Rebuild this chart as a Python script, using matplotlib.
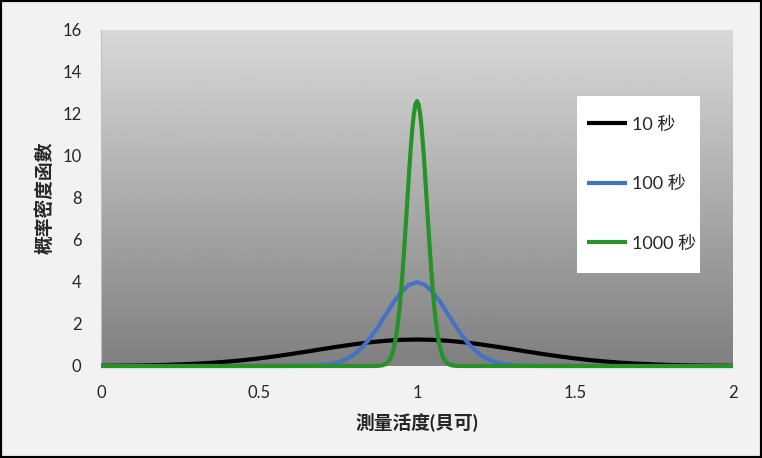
import numpy as np
import matplotlib.pyplot as plt
from matplotlib.patches import Rectangle

plt.rcParams['font.family'] = ['Lato', 'Noto Sans CJK TC', 'DejaVu Sans']

# data (mean activity 1 Bq)
x_10s = [0.0, 0.05, 0.1, 0.15, 0.2, 0.25, 0.3, 0.35, 0.4, 0.45, 0.5, 0.55, 0.6, 0.65,
         0.7, 0.75, 0.8, 0.85, 0.9, 0.95, 1.0, 1.05, 1.1, 1.15, 1.2, 1.25, 1.3, 1.35,
         1.4, 1.45, 1.5, 1.55, 1.6, 1.65, 1.7, 1.75, 1.8, 1.85, 1.9, 1.95, 2.0]
y_10s = [0.0085, 0.0138, 0.0220, 0.0340, 0.0514, 0.0758, 0.1088, 0.1525, 0.2085, 0.2781,
         0.3614, 0.4583, 0.5669, 0.6838, 0.8044, 0.9230, 1.0329, 1.1274, 1.2000, 1.2459,
         1.2616, 1.2459, 1.2000, 1.1274, 1.0329, 0.9230, 0.8044, 0.6838, 0.5669, 0.4583,
         0.3614, 0.2781, 0.2085, 0.1525, 0.1088, 0.0758, 0.0514, 0.0340, 0.0220, 0.0138,
         0.0085]

x_100s = [0.0, 0.55, 0.6, 0.65, 0.675, 0.7, 0.725, 0.75, 0.775, 0.8, 0.825, 0.85, 0.875,
          0.9, 0.925, 0.95, 0.975, 1.0, 1.025, 1.05, 1.075, 1.1, 1.125, 1.15, 1.175, 1.2,
          1.225, 1.25, 1.275, 1.3, 1.325, 1.35, 1.4, 1.45, 2.0]
y_100s = [0.0, 0.0001, 0.0013, 0.0087, 0.0203, 0.0443, 0.0909, 0.1753, 0.3174, 0.5399,
          0.8628, 1.2952, 1.8265, 2.4197, 3.0114, 3.5207, 3.8666, 3.9894, 3.8666, 3.5207,
          3.0114, 2.4197, 1.8265, 1.2952, 0.8628, 0.5399, 0.3174, 0.1753, 0.0909, 0.0443,
          0.0203, 0.0087, 0.0013, 0.0001, 0.0]

x_1000s = [0.0, 0.86, 0.87, 0.88, 0.89, 0.9, 0.905, 0.91, 0.915, 0.92, 0.925, 0.93, 0.935,
           0.94, 0.945, 0.95, 0.955, 0.96, 0.965, 0.97, 0.975, 0.98, 0.985, 0.99, 0.995,
           1.0, 1.005, 1.01, 1.015, 1.02, 1.025, 1.03, 1.035, 1.04, 1.045, 1.05, 1.055,
           1.06, 1.065, 1.07, 1.075, 1.08, 1.085, 1.09, 1.095, 1.1, 1.11, 1.12, 1.13,
           1.14, 2.0]
y_1000s = [0.0, 0.0003, 0.0027, 0.0094, 0.0298, 0.085, 0.138, 0.220, 0.340, 0.514, 0.758,
           1.088, 1.525, 2.085, 2.781, 3.614, 4.583, 5.669, 6.838, 8.044, 9.230, 10.329,
           11.274, 12.000, 12.459, 12.616, 12.459, 12.000, 11.274, 10.329, 9.230, 8.044,
           6.838, 5.669, 4.583, 3.614, 2.781, 2.085, 1.525, 1.088, 0.758, 0.514, 0.340,
           0.220, 0.138, 0.085, 0.0298, 0.0094, 0.0027, 0.0003, 0.0]

labels = ['10 秒', '100 秒', '1000 秒']
colors = ['#000000', '#4472c4', '#279227']

W, H = 762, 458
fig = plt.figure(figsize=(W / 100, H / 100), dpi=100, facecolor='#f2f2f2')
ax = fig.add_axes([101 / W, 1 - 366 / H, 632 / W, 336 / H])

# grey gradient background of the plot area
grad = np.linspace(0.85, 0.5, 256).reshape(-1, 1)
ax.imshow(grad, cmap='gray', vmin=0, vmax=1, aspect='auto',
          extent=[0, 1, 0, 1], transform=ax.transAxes, zorder=0)

for xs, ys, lab, col in zip([x_10s, x_100s, x_1000s], [y_10s, y_100s, y_1000s],
                            labels, colors):
    ax.plot(xs, ys, color=col, lw=3, label=lab, clip_on=False, zorder=3,
            solid_capstyle='butt')

ax.set_xlim(0, 2)
ax.set_ylim(0, 16)
ax.set_xticks([0, 0.5, 1, 1.5, 2])
ax.set_xticklabels(['0', '0.5', '1', '1.5', '2'])
ax.set_yticks(range(0, 17, 2))
ax.tick_params(length=0, labelsize=12, colors='#262626')
ax.tick_params(axis='x', pad=14)
ax.tick_params(axis='y', pad=14)
for s in ['top', 'right', 'bottom']:
    ax.spines[s].set_visible(False)
ax.spines['left'].set_color('#bfbfbf')

ax.set_xlabel('測量活度(貝可)', fontsize=13.5, fontweight='bold', labelpad=8,
              color='#262626')
ax.set_ylabel('概率密度函數', fontsize=13.5, fontweight='bold', labelpad=6,
              color='#262626')

# white legend box
ax.add_patch(Rectangle((577 / W, 1 - 273 / H), 123 / W, 177 / H,
                       transform=fig.transFigure, facecolor='white',
                       edgecolor='none', zorder=4, clip_on=False))
leg = ax.legend(loc='center left', bbox_to_anchor=(587 / W, 1 - 184 / H),
                bbox_transform=fig.transFigure, fontsize=13, frameon=False,
                handlelength=2.2, handletextpad=0.3, labelspacing=2.4,
                borderpad=0, borderaxespad=0)
for t in leg.get_texts():
    t.set_color('#262626')
leg.set_zorder(5)

fig.patches.append(Rectangle((0, 0), 1, 1, transform=fig.transFigure, fill=False,
                             edgecolor='black', lw=3))

fig.savefig('out.png', dpi=100, facecolor=fig.get_facecolor())
